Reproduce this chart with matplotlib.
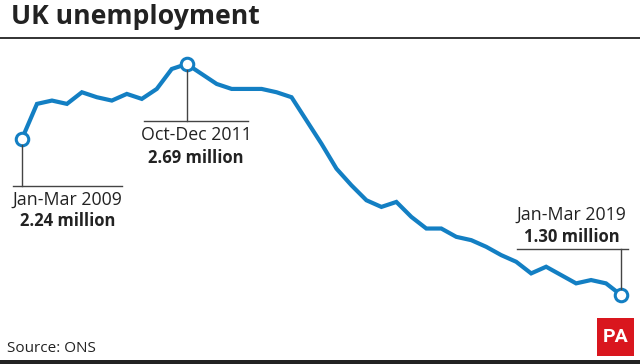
import matplotlib
matplotlib.use("Agg")
import matplotlib.pyplot as plt
from matplotlib.lines import Line2D
from matplotlib.patches import Rectangle

# ---- data (UK unemployment, millions, quarterly Jan-Mar 2009 .. Jan-Mar 2019)
quarters = list(range(41))
unemployment = [2.24, 2.45, 2.47, 2.45, 2.52, 2.49, 2.47, 2.51, 2.48, 2.54,
                2.66, 2.69, 2.63, 2.57, 2.54, 2.54, 2.54, 2.52, 2.49, 2.35,
                2.21, 2.06, 1.96, 1.87, 1.83, 1.86, 1.77, 1.70, 1.70, 1.65,
                1.63, 1.59, 1.54, 1.50, 1.43, 1.47, 1.42, 1.37, 1.39, 1.37,
                1.30]
highlight_idx = [0, 11, 40]
highlight_periods = ["Jan-Mar 2009", "Oct-Dec 2011", "Jan-Mar 2019"]
highlight_labels = ["2.24 million", "2.69 million", "1.30 million"]
title = "UK unemployment"
source = "Source: ONS"

W, H = 640, 364
BLUE = "#137fc3"
DARK = "#222222"
FONT = "Open Sans"

fig = plt.figure(figsize=(W / 100, H / 100), dpi=100)
ax = fig.add_axes([0, 0, 1, 1])
ax.set_axis_off()

# map data so that idx 0 -> x=22px, idx 40 -> x=621px ; 2.69 -> y=64px, 1.30 -> y=295px
xs = (621 - 22) / 40.0
ys = (295 - 64) / (2.69 - 1.30)
ax.set_xlim(0 - 22 / xs, 40 + (W - 621) / xs)
ax.set_ylim(1.30 - (H - 295) / ys, 2.69 + 64 / ys)

ax.plot(quarters, unemployment, color=BLUE, lw=3.0, solid_joinstyle="miter",
        solid_capstyle="butt", zorder=3)
ax.plot([quarters[i] for i in highlight_idx], [unemployment[i] for i in highlight_idx],
        ls="none", marker="o", ms=9, mfc="white", mec=BLUE, mew=2.2, zorder=4)


def fx(x):
    return x / W


def fy(y):
    return 1 - y / H


def pix(i):
    disp = ax.transData.transform((quarters[i], unemployment[i]))
    return disp[0], H - disp[1]


fig.canvas.draw()

# annotation geometry (pixels): rule y, rule x-range, text centre, period y, value y
ann = [
    dict(rule_y=185.5, x0=13, x1=122, cx=67.5, ty=200, vy=221),
    dict(rule_y=121.5, x0=144, x1=248, cx=196, ty=135.5, vy=158),
    dict(rule_y=249, x0=517, x1=628, cx=571.5, ty=215, vy=236.5),
]
for k, i in enumerate(highlight_idx):
    a = ann[k]
    px, py = pix(i)
    if a["rule_y"] > py:
        y_start = py + 6
    else:
        y_start = py - 6
    fig.add_artist(Line2D([fx(px), fx(px)], [fy(y_start), fy(a["rule_y"])],
                          color="#444444", lw=1.0, transform=fig.transFigure, zorder=2))
    fig.add_artist(Line2D([fx(a["x0"]), fx(a["x1"])], [fy(a["rule_y"]), fy(a["rule_y"])],
                          color="#444444", lw=1.0, transform=fig.transFigure, zorder=2))
    fig.text(fx(a["cx"]), fy(a["ty"]), highlight_periods[k], ha="center", va="center",
             fontsize=12.8, family=FONT, color=DARK)
    fig.text(fx(a["cx"]), fy(a["vy"]), highlight_labels[k], ha="center", va="center",
             fontsize=12, family=FONT, fontweight="bold", color=DARK)

# title and rule
fig.text(fx(11), fy(17), title, ha="left", va="center", fontsize=19.2,
         family=FONT, fontweight="bold", color=DARK)
fig.add_artist(Line2D([0, 1], [fy(38), fy(38)], color=DARK, lw=1.3,
                      transform=fig.transFigure))

# source
fig.text(fx(7), fy(349), source, ha="left", va="center", fontsize=11,
         family=FONT, color=DARK)

# PA logo
fig.add_artist(Rectangle((fx(597), fy(356)), fx(37), (356 - 318) / H,
                         transform=fig.transFigure, facecolor="#d9161e", edgecolor="none"))
fig.text(fx(615.5), fy(337.5), "PA", ha="center", va="center", fontsize=14,
         family="Roboto", fontweight="bold", color="white", fontstretch="condensed")

# bottom bar
fig.add_artist(Rectangle((0, 0), 1, 4 / H, transform=fig.transFigure,
                         facecolor=DARK, edgecolor="none"))

fig.savefig("out.png", dpi=100, facecolor="white")
